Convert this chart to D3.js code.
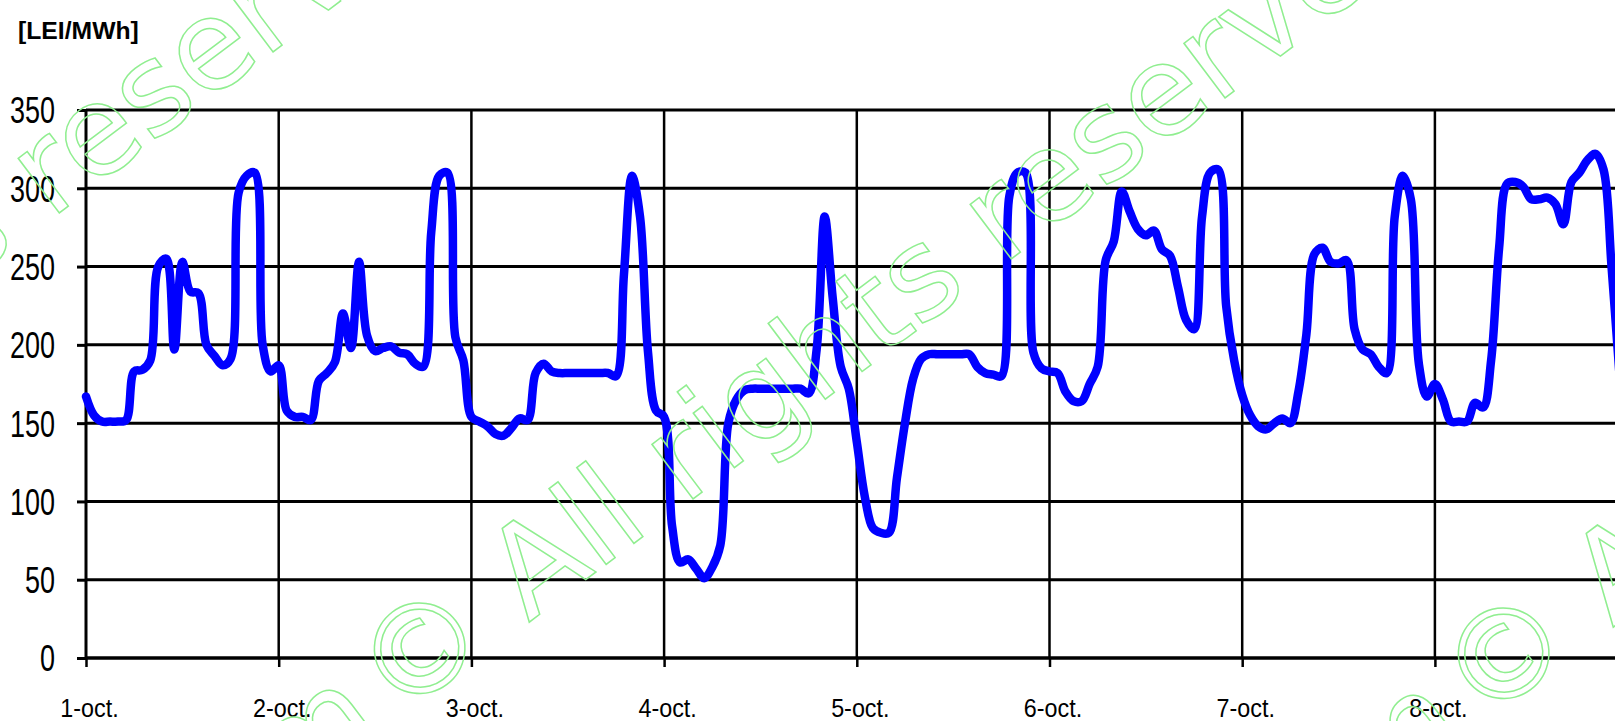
<!DOCTYPE html>
<meta charset="utf-8">
<style>
body { margin: 0; background: #fff; }
svg { display: block; }
.axis text { fill: #000; font-family: "Liberation Sans", Arial, sans-serif; }
.watermark text { fill: none; stroke: #90ee90; stroke-width: 1.5px; font-family: "DejaVu Sans", sans-serif; font-size: 125px; }
</style>
<body>
<svg width="1615" height="721" id="chart"></svg>
<script src="https://d3js.org/d3.v7.min.js"></script>
<script>

// hourly prices, LEI/MWh, one array per day
var days = ["1-oct.", "2-oct.", "3-oct.", "4-oct.", "5-oct.", "6-oct.", "7-oct.", "8-oct."];
var day1 = [167,155,151,151,151,152,183,184,190,250,255,197,253,234,233,200,193,187,191,297,308,310,200,183];
var day2 = [187,158,154,154,152,177,182,189,220,198,253,206,196,198,199,195,194,188,186,272,308,310,205,190];
var day3 = [154,151,148,143,142,147,153,152,182,188,183,182,182,182,182,182,182,182,180,245,308,282,195,158];
var day4 = [154,84,61,63,57,51,58,72,150,165,171,172,172,172,172,172,172,172,169,197,282,230,186,172];
var day5 = [138,103,83,80,80,115,150,178,191,194,194,194,194,194,194,186,182,181,180,295,310,310,195,185];
var day6 = [183,182,170,164,164,175,186,254,266,298,285,274,270,273,261,257,237,216,210,282,310,312,225,190];
var day7 = [168,155,148,146,150,153,150,170,207,258,262,253,252,254,210,197,194,186,182,282,308,293,188,167];
var day8 = [175,165,151,151,151,163,160,190,262,303,304,301,293,293,294,290,277,304,310,318,322,312,250,180];
var prices = [].concat(day1, day2, day3, day4, day5, day6, day7, day8);
var yTicks = [0, 50, 100, 150, 200, 250, 300, 350];
var unitLabel = "[LEI/MWh]";
var watermarkLead = "opcom";
var watermarkText = "\u00a9 All rights reserved";

var svg = d3.select("svg"),
    width = +svg.attr("width"),
    height = +svg.attr("height");

var dayWidth = 192.7;
var x = d3.scaleLinear().domain([0, 24 * 8]).range([86, 86 + dayWidth * 8]);
var y = d3.scaleLinear().domain([0, 350]).range([658, 110]);
var dayTicks = days.map(function(d, i) { return i * 24; });

// horizontal grid
svg.append("g")
    .selectAll("line")
    .data(yTicks)
    .enter().append("line")
    .attr("x1", 86).attr("x2", width)
    .attr("y1", function(d) { return y(d); })
    .attr("y2", function(d) { return y(d); })
    .attr("stroke", "#000")
    .attr("stroke-width", function(d) { return d == 0 ? 3.5 : 3; });

// vertical day lines
svg.append("g")
    .selectAll("line")
    .data(dayTicks)
    .enter().append("line")
    .attr("x1", function(d) { return x(d); })
    .attr("x2", function(d) { return x(d); })
    .attr("y1", y(350)).attr("y2", y(0))
    .attr("stroke", "#000")
    .attr("stroke-width", function(d) { return d == 0 ? 3 : 2.5; });

var yAxis = svg.append("g")
    .attr("class", "axis")
    .attr("transform", "translate(86,0)")
    .call(d3.axisLeft(y).tickValues(yTicks).tickSize(9));
yAxis.select(".domain").remove();
yAxis.selectAll("line").attr("stroke", "#000").attr("stroke-width", 3);
yAxis.selectAll("text")
    .attr("x", null)
    .attr("dy", "0.36em")
    .attr("transform", "translate(-31,0) scale(0.75,1)")
    .style("font-size", "36px");

var xAxis = svg.append("g")
    .attr("class", "axis")
    .attr("transform", "translate(0,658)")
    .call(d3.axisBottom(x).tickValues(dayTicks).tickSize(9)
        .tickFormat(function(d, i) { return days[i]; }));
xAxis.select(".domain").remove();
xAxis.selectAll("line").attr("stroke", "#000").attr("stroke-width", 2.5);
xAxis.selectAll("text")
    .attr("y", null)
    .attr("dy", null)
    .attr("transform", "translate(3,58.7) scale(0.88,1)")
    .style("font-size", "26.5px");

svg.append("text")
    .attr("class", "axis")
    .attr("transform", "translate(18,39) scale(1.03,1)")
    .style("font-family", "'Liberation Sans', Arial, sans-serif")
    .style("font-weight", "bold")
    .style("font-size", "24px")
    .text(unitLabel);

var line = d3.line()
    .x(function(d, i) { return x(i); })
    .y(function(d) { return y(d); })
    .curve(d3.curveCatmullRom.alpha(0.5));

svg.append("path")
    .datum(prices)
    .attr("d", line)
    .attr("fill", "none")
    .attr("stroke", "#0000ff")
    .attr("stroke-width", 8.5)
    .attr("stroke-linejoin", "round")
    .attr("stroke-linecap", "round");

// watermark, drawn on top
var marks = [[-555, 676], [397, 722], [1481, 727]];
var wm = svg.append("g").attr("class", "watermark")
    .selectAll("g")
    .data(marks)
    .enter().append("g")
    .attr("transform", function(d) { return "translate(" + d[0] + "," + d[1] + ") rotate(-37)"; });
wm.append("text").attr("x", -15).attr("text-anchor", "end").text(watermarkLead);
wm.append("text").attr("x", 0).text(watermarkText);

</script>
</body>
